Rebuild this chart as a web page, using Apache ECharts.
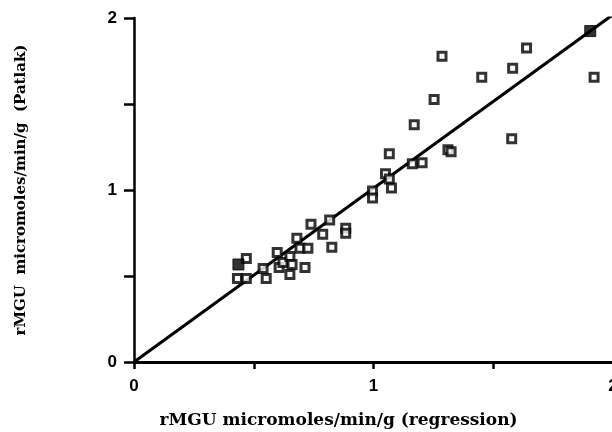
<!DOCTYPE html>
<html>
<head>
<meta charset="utf-8">
<script src="https://cdn.jsdelivr.net/npm/echarts@6/dist/echarts.min.js"></script>
<style>
  html, body { margin: 0; padding: 0; background: #fff; }
  #myChart { width: 612px; height: 432px; }
</style>
</head>
<body>
<div id="myChart"></div>
<script>
// x = rMGU by regression, y = rMGU by Patlak
var openX = [0.469, 0.432, 0.469, 0.539, 0.552, 0.598, 0.606, 0.622, 0.651, 0.651,
             0.660, 0.680, 0.693, 0.714, 0.726, 0.739, 0.788, 0.817, 0.826, 0.884,
             0.884, 0.996, 0.996, 1.050, 1.066, 1.075, 1.066, 1.162, 1.203, 1.170,
             1.253, 1.286, 1.311, 1.324, 1.452, 1.577, 1.581, 1.639, 1.921];
var openY = [0.602, 0.485, 0.485, 0.544, 0.485, 0.637, 0.550, 0.579, 0.614, 0.509,
             0.567, 0.719, 0.661, 0.550, 0.661, 0.801, 0.743, 0.825, 0.667, 0.778,
             0.749, 0.994, 0.953, 1.094, 1.064, 1.012, 1.211, 1.152, 1.158, 1.380,
             1.526, 1.778, 1.234, 1.222, 1.655, 1.298, 1.708, 1.825, 1.655];
var filledX = [0.436, 1.905];
var filledY = [0.567, 1.924];
var lineX = [0, 2];
var lineY = [0, 2.02];
var xTitle = 'rMGU micromoles/min/g (regression)';
var yTitle = 'rMGU  micromoles/min/g  (Patlak)';

function zip(xs, ys) {
    return xs.map(function (x, i) { return [x, ys[i]]; });
}

var myChart = echarts.init(document.getElementById('myChart'));

var tickFont = {
    color: '#000',
    fontFamily: 'Liberation Sans',
    fontWeight: 'bold',
    fontSize: 17,
    formatter: function (v) { return v % 1 === 0 ? String(v) : ''; }
};

var option = {
    animation: false,
    backgroundColor: '#fff',
    grid: {
        left: 134,
        top: 18,
        width: 479,
        height: 344,
        containLabel: false,
        outerBoundsMode: 'none'
    },
    xAxis: {
        type: 'value',
        min: 0,
        max: 2,
        interval: 0.5,
        splitLine: { show: false },
        axisLine: { lineStyle: { color: '#000', width: 3 } },
        axisTick: { length: 7, lineStyle: { color: '#000', width: 2.5 } },
        axisLabel: Object.assign({ margin: 16, showMaxLabel: true, showMinLabel: true, hideOverlap: false }, tickFont),
        name: xTitle,
        nameLocation: 'middle',
        nameGap: 50,
        nameTextStyle: {
            color: '#000',
            fontFamily: 'DejaVu Serif',
            fontWeight: 'bold',
            fontSize: 17,
            padding: [0, 0, 0, -70]
        }
    },
    yAxis: {
        type: 'value',
        min: 0,
        max: 2,
        interval: 0.5,
        splitLine: { show: false },
        axisLine: { lineStyle: { color: '#000', width: 2.5 } },
        axisTick: { length: 10, lineStyle: { color: '#000', width: 2.5 } },
        axisLabel: Object.assign({ margin: 17 }, tickFont),
        name: yTitle,
        nameLocation: 'middle',
        nameGap: 105,
        nameTextStyle: {
            color: '#000',
            fontFamily: 'DejaVu Serif',
            fontWeight: 'bold',
            fontSize: 15,
            whiteSpace: 'pre'
        }
    },
    series: [
        {
            type: 'line',
            data: zip(lineX, lineY),
            showSymbol: false,
            lineStyle: { color: '#000', width: 3 },
            z: 1
        },
        {
            type: 'scatter',
            data: zip(openX, openY),
            symbol: 'rect',
            symbolSize: 8,
            itemStyle: { color: '#fff', borderColor: '#000', borderWidth: 3 },
            z: 2
        },
        {
            type: 'scatter',
            data: zip(filledX, filledY),
            symbol: 'rect',
            symbolSize: 11,
            itemStyle: { color: '#000', borderColor: '#000', borderWidth: 1 },
            z: 3
        }
    ]
};

myChart.setOption(option);
</script>
</body>
</html>
